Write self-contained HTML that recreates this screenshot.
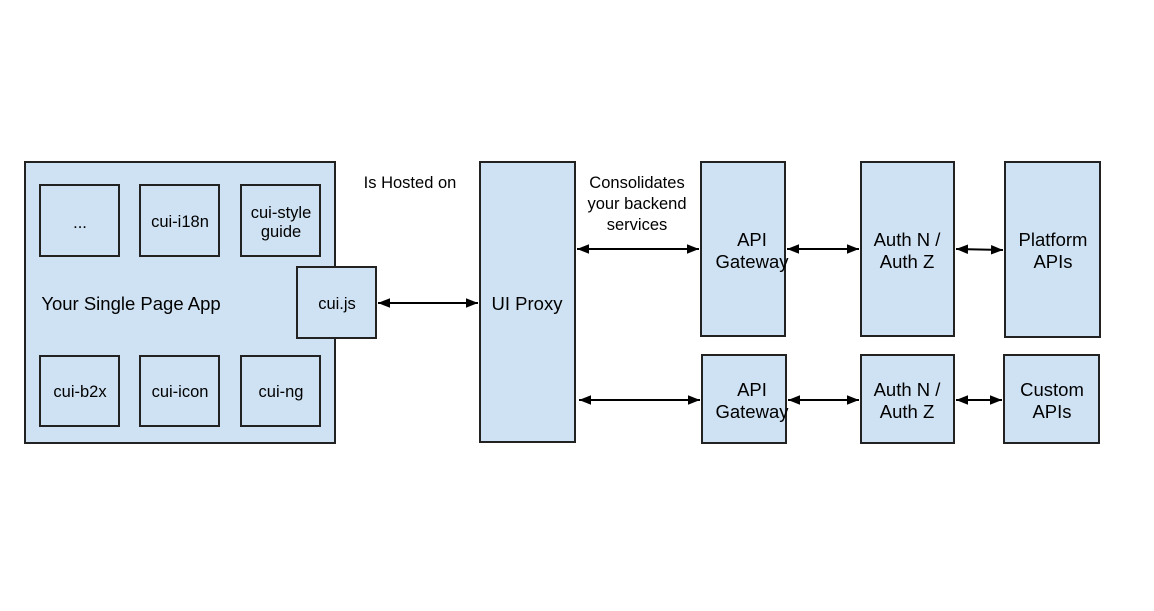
<!DOCTYPE html><html><head><style>body{margin:0;background:#fff}</style></head><body>
<svg width="1154" height="606" viewBox="0 0 1154 606" xmlns="http://www.w3.org/2000/svg" font-family="Liberation Sans, Arial, sans-serif" fill="#000">
<defs><marker id="a" viewBox="0 0 10 10" refX="10" refY="5" markerWidth="6" markerHeight="6" orient="auto-start-reverse"><path d="M0,1L10,5L0,9z" fill="#000"/></marker></defs>
<g fill="#cfe2f3" stroke="#222" stroke-width="2">
<rect x="25" y="162" width="310" height="281"/>
<rect x="40" y="185" width="79" height="71"/><rect x="140" y="185" width="79" height="71"/><rect x="241" y="185" width="79" height="71"/>
<rect x="40" y="356" width="79" height="70"/><rect x="140" y="356" width="79" height="70"/><rect x="241" y="356" width="79" height="70"/>
<rect x="297" y="267" width="79" height="71"/>
<rect x="480" y="162" width="95" height="280"/>
<rect x="701" y="162" width="84" height="174"/><rect x="702" y="355" width="84" height="88"/>
<rect x="861" y="162" width="93" height="174"/><rect x="861" y="355" width="93" height="88"/>
<rect x="1005" y="162" width="95" height="175"/><rect x="1004" y="355" width="95" height="88"/>
</g>
<g stroke="#000" stroke-width="2" marker-start="url(#a)" marker-end="url(#a)">
<line x1="378" y1="303" x2="478" y2="303"/>
<line x1="577" y1="249" x2="699" y2="249"/><line x1="579" y1="400" x2="700" y2="400"/>
<line x1="787" y1="249" x2="859" y2="249"/><line x1="788" y1="400" x2="859" y2="400"/>
<line x1="956" y1="249" x2="1003" y2="250"/><line x1="956" y1="400" x2="1002" y2="400"/>
</g>
<g font-size="16.5" text-anchor="middle">
<text x="80" y="228">...</text><text x="180" y="227">cui-i18n</text>
<text x="281" y="218">cui-style</text><text x="281" y="237">guide</text>
<text x="80" y="397">cui-b2x</text><text x="180" y="397">cui-icon</text><text x="281" y="397">cui-ng</text>
<text x="337" y="309">cui.js</text>
<text x="410" y="188">Is Hosted on</text>
<text x="637" y="188">Consolidates</text><text x="637" y="209">your backend</text><text x="637" y="230">services</text>
</g>
<g font-size="18.5" text-anchor="middle">
<text x="131" y="310">Your Single Page App</text>
<text x="527" y="310">UI Proxy</text>
<text x="752" y="246">API</text><text x="752" y="268">Gateway</text>
<text x="752" y="396">API</text><text x="752" y="418">Gateway</text>
<text x="907" y="246">Auth N /</text><text x="907" y="268">Auth Z</text>
<text x="907" y="396">Auth N /</text><text x="907" y="418">Auth Z</text>
<text x="1053" y="246">Platform</text><text x="1053" y="268">APIs</text>
<text x="1052" y="396">Custom</text><text x="1052" y="418">APIs</text>
</g>
</svg></body></html>
